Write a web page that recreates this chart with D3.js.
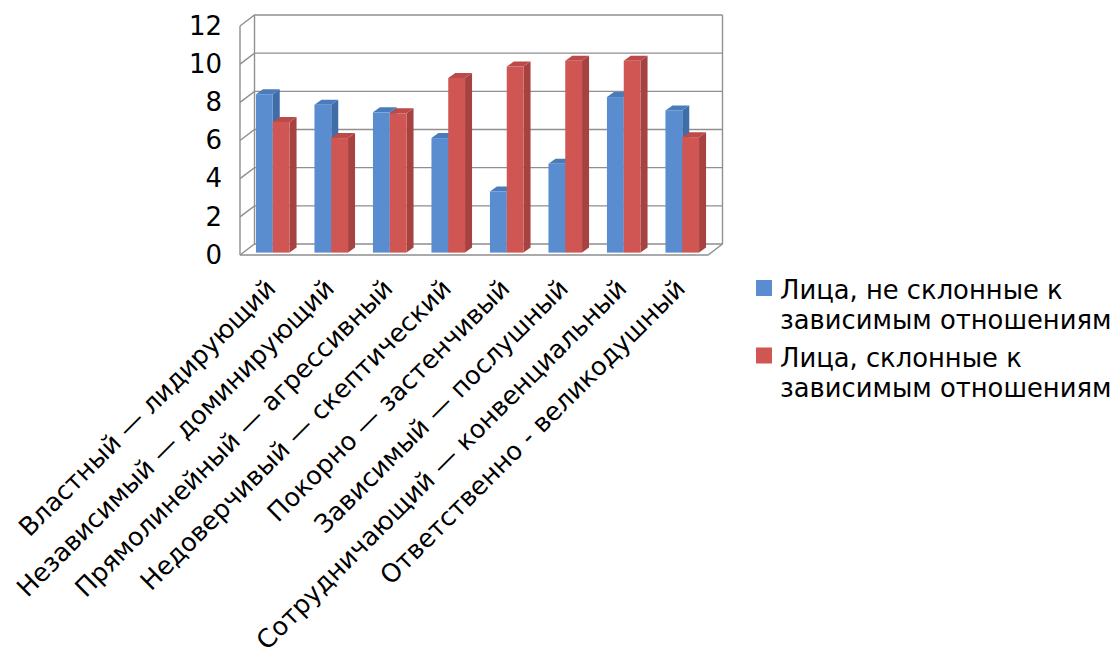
<!DOCTYPE html>
<html>
<head>
<meta charset="utf-8">
<script src="https://cdn.jsdelivr.net/npm/d3@7"></script>
<style>
  html, body { margin: 0; padding: 0; background: #fff; overflow: hidden; }
  text { font-family: "DejaVu Sans", sans-serif; fill: #000; }
</style>
</head>
<body>
<svg id="chart" width="1114" height="648"></svg>
<script>
const categories = [
  "Властный — лидирующий",
  "Независимый — доминирующий",
  "Прямолинейный — агрессивный",
  "Недоверчивый — скептический",
  "Покорно — застенчивый",
  "Зависимый — послушный",
  "Сотрудничающий — конвенциальный",
  "Ответственно - великодушный"
]
const notProne = [8.3, 7.75, 7.35, 6, 3.2, 4.65, 8.15, 7.45]
const prone = [6.85, 6, 7.3, 9.15, 9.75, 10.05, 10.05, 6.05]
const seriesNames = ["Лица, не склонные к|зависимым отношениям", "Лица, склонные к|зависимым отношениям"]
const yTicks = [0, 2, 4, 6, 8, 10, 12]

const colors = [
  { front: "#5a8dd0", side: "#3f6da8", top: "#4a7cbc" },
  { front: "#d05654", side: "#a64341", top: "#bb4a48" }
]
const gridColor = "#8f8f8f"

const svg = d3.select("#chart")

// front plane of the 3d box
const x = d3.scaleBand().domain(categories).range([240, 708])
const y = d3.scaleLinear().domain([0, 12]).range([255, 26])
const xSeries = d3.scaleBand().domain([0, 1]).range([0, 33.6])

// depth of the wall and of the bars
const wallDx = 14.5, wallDy = -11
const barDx = 7, barDy = -5
const barShiftX = 3.5, barShiftY = -2.4

// walls and gridlines
const grid = svg.append("g").attr("fill", "none").attr("stroke", gridColor).attr("stroke-width", 1.4)
yTicks.forEach(t => {
  grid.append("polyline").attr("points", [
    [x.range()[0], y(t)],
    [x.range()[0] + wallDx, y(t) + wallDy],
    [x.range()[1] + wallDx, y(t) + wallDy]
  ].join(" "))
})
grid.append("line")
  .attr("x1", x.range()[0]).attr("x2", x.range()[0])
  .attr("y1", y(0)).attr("y2", y(12))
grid.append("line")
  .attr("x1", x.range()[0] + wallDx).attr("x2", x.range()[0] + wallDx)
  .attr("y1", y(0) + wallDy).attr("y2", y(12) + wallDy)
grid.append("line")
  .attr("x1", x.range()[1] + wallDx).attr("x2", x.range()[1] + wallDx)
  .attr("y1", y(0) + wallDy).attr("y2", y(12) + wallDy)
grid.append("polyline").attr("points", [
  [x.range()[0], y(0)],
  [x.range()[1], y(0)],
  [x.range()[1] + wallDx, y(0) + wallDy]
].join(" "))

// bars
function drawBar(g, x0, w, v, c) {
  const top = y(v) + barShiftY, bottom = y(0) + barShiftY
  g.append("polygon").attr("fill", c.side).attr("points", [
    [x0 + w, top], [x0 + w + barDx, top + barDy],
    [x0 + w + barDx, bottom + barDy], [x0 + w, bottom]
  ].join(" "))
  g.append("polygon").attr("fill", c.top).attr("points", [
    [x0, top], [x0 + barDx, top + barDy],
    [x0 + w + barDx, top + barDy], [x0 + w, top]
  ].join(" "))
  g.append("rect").attr("fill", c.front)
    .attr("x", x0).attr("y", top)
    .attr("width", w).attr("height", bottom - top)
}

const bars = svg.append("g")
categories.forEach((cat, i) => {
  const start = x(cat) + x.bandwidth() / 2 - 16.8 + barShiftX
  drawBar(bars, start + xSeries(0), xSeries.bandwidth(), notProne[i], colors[0])
  drawBar(bars, start + xSeries(1), xSeries.bandwidth(), prone[i], colors[1])
})

// axis labels
const yAxis = svg.append("g")
  .attr("transform", "translate(230,0)")
  .call(d3.axisLeft(y).tickValues(yTicks).tickSize(0).tickPadding(8))
yAxis.select(".domain").remove()
yAxis.selectAll("text").style("font-size", "26px").style("font-family", '"DejaVu Sans"')

const xAxis = svg.append("g")
  .attr("transform", "translate(0,255)")
  .call(d3.axisBottom(x).tickSize(0).tickPadding(0))
xAxis.select(".domain").remove()
xAxis.selectAll("text")
  .style("font-size", "25.5px")
  .style("font-family", '"DejaVu Sans"')
  .attr("text-anchor", "end")
  .attr("dy", "0")
  .attr("y", 0)
  .attr("transform", "translate(8,35) rotate(-45)")

// legend
const legend = svg.append("g")
seriesNames.forEach((name, i) => {
  const top = 280 + i * 67.5
  legend.append("rect")
    .attr("x", 756).attr("y", top)
    .attr("width", 16).attr("height", 16)
    .attr("fill", colors[i].front)
  name.split("|").forEach((line, j) => {
    legend.append("text")
      .attr("x", 780).attr("y", top + 19 + j * 30)
      .style("font-size", "25.8px")
      .text(line)
  })
})
</script>
</body>
</html>
